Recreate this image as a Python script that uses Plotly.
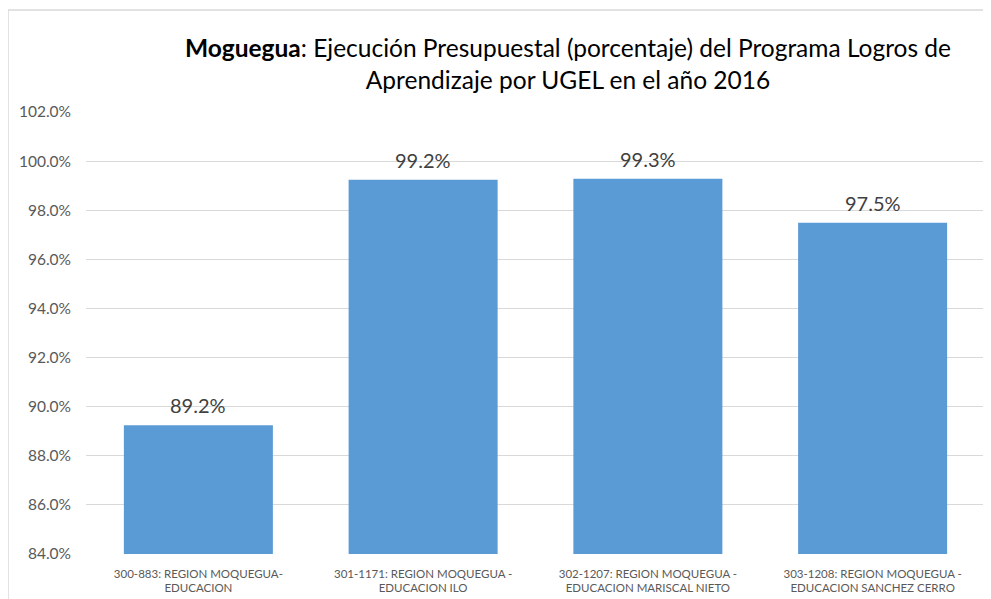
import plotly.graph_objects as go

CATEGORIES = [
    "300-883: REGION MOQUEGUA-<br>EDUCACION",
    "301-1171: REGION MOQUEGUA -<br>EDUCACION ILO",
    "302-1207: REGION MOQUEGUA -<br>EDUCACION MARISCAL NIETO",
    "303-1208: REGION MOQUEGUA -<br>EDUCACION SANCHEZ CERRO",
]
EJECUCION = [89.24, 99.24, 99.28, 97.49]
Y_TICKS = [84, 86, 88, 90, 92, 94, 96, 98, 100, 102]
Y_TICK_TEXT = [f"{v:.1f}%" for v in Y_TICKS]

TITLE = (
    "<b>Moguegua</b>: Ejecución Presupuestal (porcentaje) del Programa Logros de"
    "<br>Aprendizaje por UGEL en el año 2016"
)

FONT = "Lato, 'Open Sans', sans-serif"
GRID = "#D9D9D9"

# page body has an 8px margin, so everything is laid out 8px up/left
OFF = 8
W, H = 991, 599
PLOT_LEFT, PLOT_RIGHT, PLOT_TOP, PLOT_BOTTOM = 86, 985, 112, 554  # page pixels
L = PLOT_LEFT - OFF
R = W - (PLOT_RIGHT - OFF)
T = PLOT_TOP - OFF
B = H - (PLOT_BOTTOM - OFF)
pw, ph = W - L - R, H - T - B


def px_x(v):
    return (v - PLOT_LEFT) / pw


def px_y(v):
    return (PLOT_BOTTOM - v) / ph


fig = go.Figure(
    go.Bar(
        x=CATEGORIES,
        y=EJECUCION,
        marker=dict(color="#5B9BD5", line=dict(width=0)),
        hovertemplate="%{y:.1f}%<extra></extra>",
    )
)

# value labels above the bars
for cat, val in zip(CATEGORIES, EJECUCION):
    fig.add_annotation(
        x=cat, y=val, text=f"{val:.1f}%",
        showarrow=False, yanchor="bottom", yshift=6,
        font=dict(size=20, color="#404040", family=FONT),
    )

# left/top border of the cropped chart frame
fig.add_shape(type="line", xref="paper", yref="paper",
              x0=px_x(8), x1=px_x(8), y0=px_y(10), y1=px_y(620),
              line=dict(color=GRID, width=1.5))
fig.add_shape(type="line", xref="paper", yref="paper",
              x0=px_x(8), x1=px_x(1000), y0=px_y(10), y1=px_y(10),
              line=dict(color=GRID, width=1.5))

fig.update_layout(
    width=W,
    height=H,
    margin=dict(l=L, r=R, t=T, b=B, autoexpand=False),
    paper_bgcolor="white",
    plot_bgcolor="white",
    font=dict(family=FONT, color="#595959"),
    bargap=0.337,
    showlegend=False,
    title=dict(
        text=TITLE,
        x=(568 - OFF) / W,
        xanchor="center",
        y=1 - 49 / H,
        yanchor="middle",
        font=dict(size=24.5, color="#000000", family=FONT),
    ),
    xaxis=dict(
        showgrid=False,
        showline=False,
        ticks="",
        automargin=False,
        ticklabelstandoff=11,
        tickfont=dict(size=11.5, color="#595959"),
    ),
    yaxis=dict(
        range=[84, 102],
        tickvals=Y_TICKS,
        ticktext=Y_TICK_TEXT,
        showgrid=True,
        gridcolor=GRID,
        gridwidth=1,
        zeroline=False,
        showline=False,
        ticks="",
        automargin=False,
        ticklabelstandoff=14,
        tickfont=dict(size=15.5, color="#595959"),
    ),
)

fig.write_html("out.html")
